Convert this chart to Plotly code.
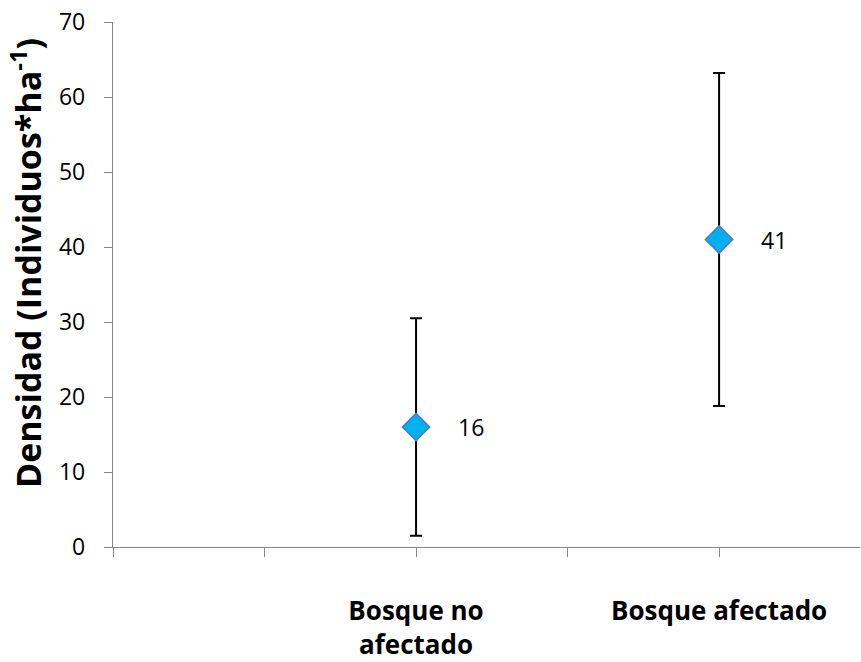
import plotly.graph_objects as go

categories = ["Bosque no<br>afectado", "Bosque afectado"]
cat_pos = [2, 4]
densidad = [16, 41]
error = [14.5, 22.2]
y_ticks = [0, 10, 20, 30, 40, 50, 60, 70]
y_title = "<b>Densidad (Individuos*ha<sup>-1</sup>)</b>"

FONT = "Open Sans, sans-serif"

fig = go.Figure()
fig.add_trace(go.Scatter(
    x=cat_pos, y=densidad, mode="markers",
    marker=dict(symbol="diamond", size=21, color="#00B0F0",
                line=dict(color="#4A7EBB", width=1.5)),
    error_y=dict(type="data", array=error, visible=True,
                 color="black", thickness=2, width=6),
    showlegend=False, cliponaxis=False,
))

for xv, yv in zip(cat_pos, densidad):
    fig.add_annotation(x=xv, y=yv, text=str(yv), showarrow=False,
                       xanchor="left", xshift=40,
                       font=dict(size=23, color="black", family=FONT))

# y-axis title placed as rotated annotation
fig.add_annotation(xref="paper", yref="paper", x=0, y=0.54, text=y_title,
                   textangle=-90, showarrow=False, xanchor="right", yanchor="middle",
                   xshift=-60, font=dict(size=34, color="black", family=FONT))

fig.update_layout(
    width=861, height=662,
    margin=dict(l=113, r=1, t=22, b=115),
    paper_bgcolor="white", plot_bgcolor="white",
    font=dict(family=FONT, color="black"),
    xaxis=dict(range=[0, 4.93], tickmode="array",
               tickvals=cat_pos,
               ticktext=["<b>" + c + "</b>" for c in categories],
               ticks="outside", ticklen=9, tickcolor="#868686", tickwidth=1.3,
               minor=dict(tick0=0, dtick=1, ticks="outside", ticklen=9,
                          tickcolor="#868686", tickwidth=1.3, showgrid=False),
               showline=True, linecolor="#868686", linewidth=1.3,
               showgrid=False, zeroline=False,
               tickfont=dict(size=26, family=FONT, color="black"),
               ticklabelstandoff=32),
    yaxis=dict(range=[0, 70], tickmode="array", tickvals=y_ticks,
               ticks="outside", ticklen=8, tickcolor="#868686", tickwidth=1.3,
               showline=True, linecolor="#868686", linewidth=1.3,
               showgrid=False, zeroline=False,
               tickfont=dict(size=23, color="black", family=FONT),
               ticklabelstandoff=14),
)

fig.write_html("out.html")
